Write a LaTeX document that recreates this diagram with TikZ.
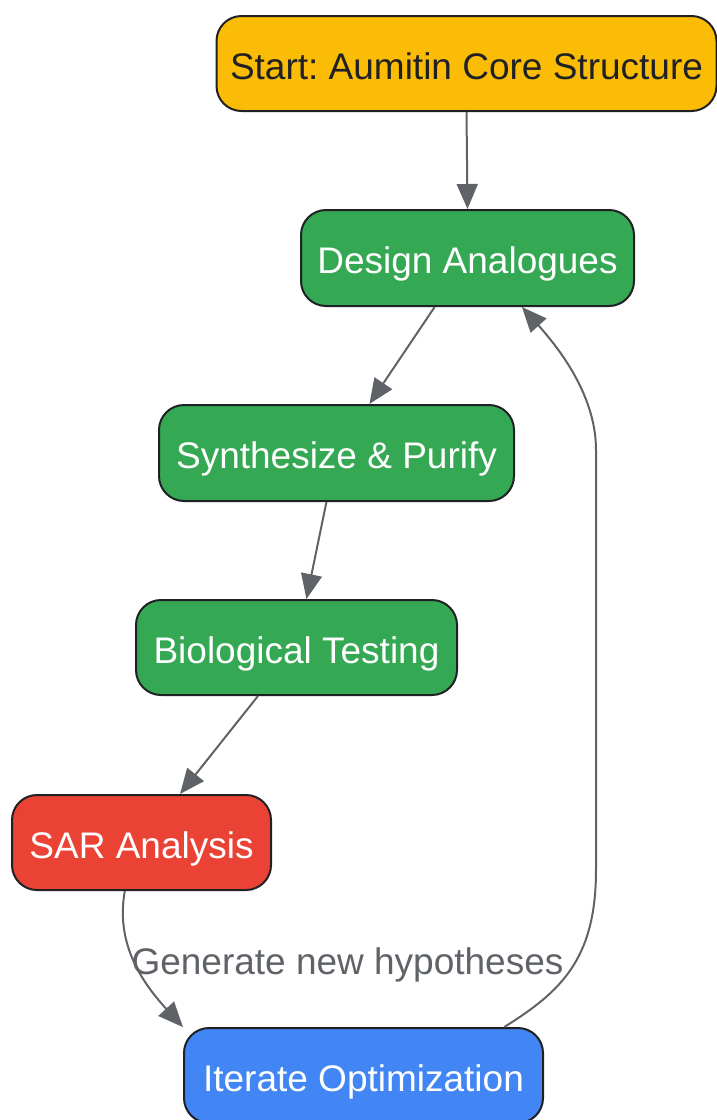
\documentclass[tikz,border=0pt]{standalone}
\usepackage{fontspec}
\setmainfont{Liberation Sans}
\usetikzlibrary{arrows.meta}
\frenchspacing
\definecolor{cyellow}{HTML}{FBBC05}
\definecolor{cgreen}{HTML}{34A853}
\definecolor{cred}{HTML}{EA4335}
\definecolor{cblue}{HTML}{4285F4}
\definecolor{cedge}{HTML}{5F6368}
\definecolor{cborder}{HTML}{202124}
\tikzset{
  box/.style={draw=cborder, line width=2pt, rounded corners=25pt, inner sep=0pt,
    font=\fontsize{37}{44}\selectfont, text=white, text height=35pt, text depth=4pt},
  conn/.style={draw=cedge, line width=2pt, -{Triangle[length=25pt,width=21pt]}},
  lbl/.style={text=cedge, font=\fontsize{37}{44}\selectfont, inner sep=0pt}
}
\begin{document}
\begin{tikzpicture}[x=1pt,y=-1pt]
\useasboundingbox (0,0) rectangle (717,1120);
\node[box, fill=cyellow, text=cborder, minimum width=500pt, minimum height=95pt] (start) at (466.5,63.5) {Start: Aumitin Core Structure};
\node[box, fill=cgreen, minimum width=333pt, minimum height=96pt] (design) at (467.5,258) {Design Analogues};
\node[box, fill=cgreen, minimum width=355pt, minimum height=96pt] (synth) at (336.5,453) {Synthesize \& Purify};
\node[box, fill=cgreen, minimum width=321pt, minimum height=95pt] (bio) at (296.5,647.5) {Biological Testing};
\node[box, fill=cred, minimum width=259pt, minimum height=95pt] (sar) at (141.5,842.5) {SAR Analysis};
\node[box, fill=cblue, minimum width=359pt, minimum height=95pt] (iter) at (363.5,1075.5) {Iterate Optimization};

\draw[conn] (start.south) -- (design.north);
\draw[conn] (design) -- (synth);
\draw[conn] (synth) -- (bio);
\draw[conn] (bio) -- (sar);
\draw[conn] (sar.-109.2) .. controls (116,940) and (138,978) .. (iter.165);
\node[lbl] (glabel) at (347.5,965) {Generate new hypotheses};
\draw[conn] (iter.19.2) .. controls (560,992) and (596,960) .. (596,870) -- (596,450) .. controls (596,400) and (565,355) .. (design.-42);
\end{tikzpicture}
\end{document}
